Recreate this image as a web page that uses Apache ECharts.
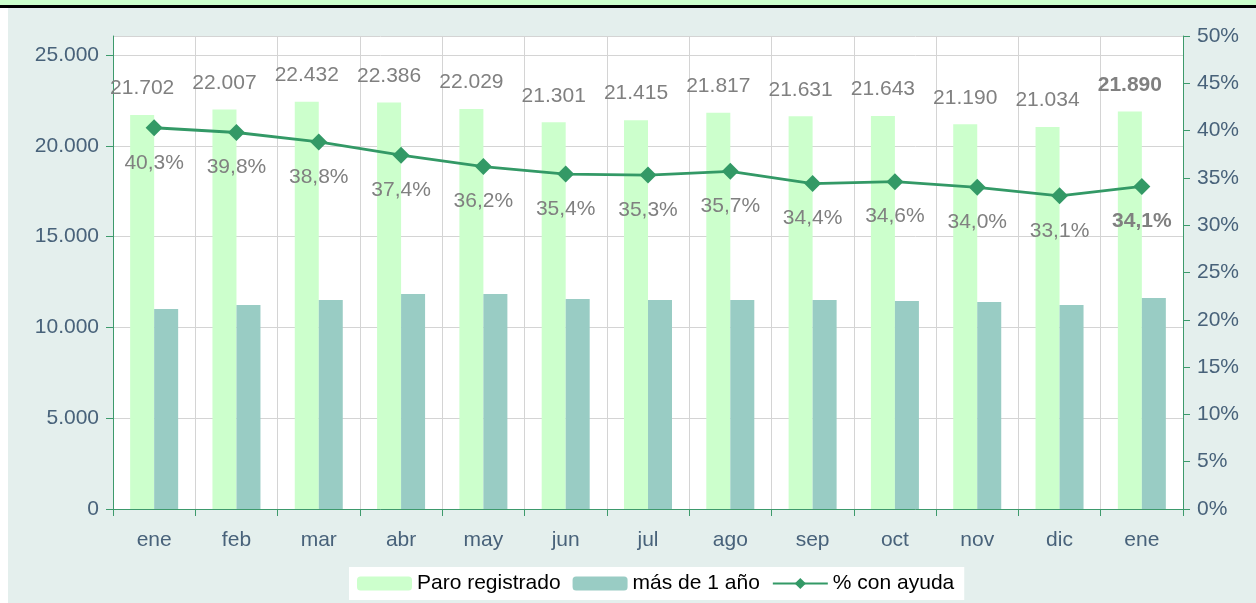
<!DOCTYPE html>
<html>
<head>
<meta charset="utf-8">
<script src="https://cdn.jsdelivr.net/npm/echarts@6/dist/echarts.min.js"></script>
<style>
  html, body { margin: 0; padding: 0; background: #fff; }
  #chart { width: 1256px; height: 603px; }
</style>
</head>
<body>
<div id="chart"></div>
<script>
const months = ['ene', 'feb', 'mar', 'abr', 'may', 'jun', 'jul', 'ago', 'sep', 'oct', 'nov', 'dic', 'ene']
const paroRegistrado = [21702, 22007, 22432, 22386, 22029, 21301, 21415, 21817, 21631, 21643, 21190, 21034, 21890]
const masDeUnAnyo = [11010, 11230, 11510, 11840, 11840, 11560, 11510, 11510, 11510, 11450, 11400, 11230, 11620]
const conAyuda = [40.3, 39.8, 38.8, 37.4, 36.2, 35.4, 35.3, 35.7, 34.4, 34.6, 34.0, 33.1, 34.1]

const FONT = '"Liberation Sans", Arial, sans-serif'
const AXIS_TXT = '#48627a'
const AXIS_LINE = '#3d9a6c'
const LABEL_TXT = '#808080'

const fmtMiles = v => String(v).replace(/\B(?=(\d{3})+(?!\d))/g, '.')
const fmtPct = v => v.toFixed(1).replace('.', ',') + '%'

// last point of each labelled series is bold
const boldLast = (arr) => arr.map((v, i) =>
  i === arr.length - 1 ? { value: v, label: { fontWeight: 'bold' } } : v)

const chart = echarts.init(document.getElementById('chart'))
chart.setOption({
  backgroundColor: '#fff',
  animation: false,
  textStyle: { fontFamily: FONT },
  graphic: [
    { type: 'rect', z: -10, shape: { x: 8, y: 7, width: 1248, height: 596 }, style: { fill: '#e4efed' } },
    { type: 'rect', z: -10, shape: { x: 0, y: 0, width: 1256, height: 5 }, style: { fill: '#ccffcc' } },
    { type: 'rect', z: -10, shape: { x: 0, y: 5, width: 1256, height: 3 }, style: { fill: '#000' } },
  ],
  grid: {
    left: 113,
    right: 73,
    top: 36,
    bottom: 94,
    show: true,
    backgroundColor: '#fff',
    borderWidth: 0,
  },
  legend: {
    left: 349,
    top: 567,
    backgroundColor: '#fff',
    padding: [6, 10, 6, 8],
    itemWidth: 55,
    itemHeight: 14,
    itemGap: 12,
    textStyle: { fontSize: 21, color: '#000', fontFamily: FONT },
    data: ['Paro registrado', 'más de 1 año', '% con ayuda'],
  },
  xAxis: {
    type: 'category',
    data: months,
    boundaryGap: true,
    axisLine: { lineStyle: { color: AXIS_LINE, width: 1 } },
    axisTick: { show: true, length: 7, lineStyle: { color: AXIS_LINE } },
    axisLabel: { color: AXIS_TXT, fontSize: 21, margin: 21, fontFamily: FONT },
    splitLine: { show: true, lineStyle: { color: '#d4d4d4' } },
  },
  yAxis: [
    {
      type: 'value',
      min: 0,
      max: 26050,
      interval: 5000,
      axisLine: { show: true, lineStyle: { color: AXIS_LINE } },
      axisTick: { show: true, length: 7, lineStyle: { color: AXIS_LINE } },
      axisLabel: {
        color: AXIS_TXT, fontSize: 21, margin: 14, fontFamily: FONT,
        showMaxLabel: false,
        formatter: v => fmtMiles(v),
      },
      splitLine: { show: true, lineStyle: { color: '#d4d4d4' } },
    },
    {
      type: 'value',
      min: 0,
      max: 50,
      interval: 5,
      position: 'right',
      axisLine: { show: true, lineStyle: { color: AXIS_LINE } },
      axisTick: { show: true, length: 7, lineStyle: { color: AXIS_LINE } },
      axisLabel: { color: AXIS_TXT, fontSize: 21, margin: 14, fontFamily: FONT, formatter: '{value}%' },
      splitLine: { show: false },
    },
  ],
  series: [
    {
      name: 'Paro registrado',
      type: 'bar',
      barWidth: 24,
      barGap: '0%',
      itemStyle: { color: '#ccffcc' },
      label: {
        show: true,
        position: 'top',
        distance: 16,
        color: LABEL_TXT,
        fontSize: 21,
        fontFamily: FONT,
        formatter: p => fmtMiles(p.value),
      },
      data: boldLast(paroRegistrado),
    },
    {
      name: 'más de 1 año',
      type: 'bar',
      barWidth: 24,
      barGap: '0%',
      itemStyle: { color: '#99ccc4' },
      data: masDeUnAnyo,
    },
    {
      name: '% con ayuda',
      type: 'line',
      yAxisIndex: 1,
      symbol: 'diamond',
      symbolSize: 17,
      itemStyle: { color: '#339966' },
      lineStyle: { color: '#339966', width: 2.8 },
      label: {
        show: true,
        position: 'bottom',
        distance: 16,
        color: LABEL_TXT,
        fontSize: 21,
        fontFamily: FONT,
        formatter: p => fmtPct(p.value),
      },
      data: boldLast(conAyuda),
      z: 5,
    },
  ],
})
</script>
</body>
</html>
